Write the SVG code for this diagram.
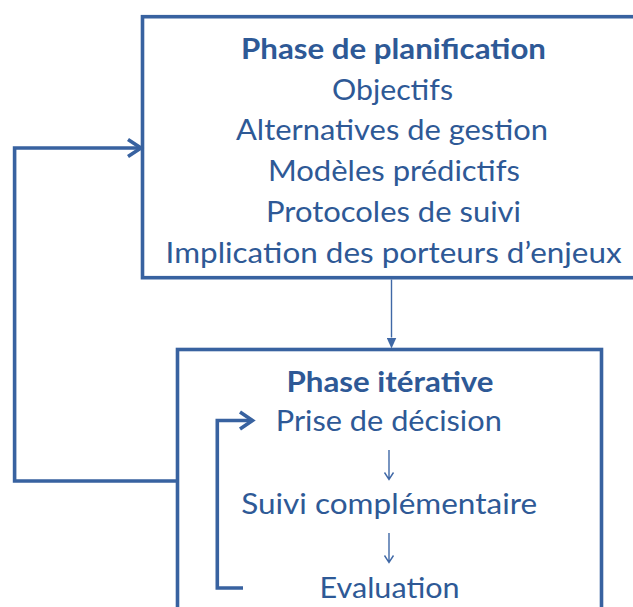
<svg xmlns="http://www.w3.org/2000/svg" width="633" height="607" viewBox="0 0 633 607">
<defs>
<style>
.box{fill:#fff;stroke:#3862a0;stroke-width:3.6}
.t{font-family:Lato,"Liberation Sans",sans-serif;font-size:28px;fill:#2e5996;text-anchor:middle}
.b{font-weight:bold}
.thick{fill:none;stroke:#3862a0;stroke-width:3.6;stroke-linejoin:miter}
.thin{fill:none;stroke:#3f68a6;stroke-width:1.4}
</style>
<marker id="tri" markerWidth="11" markerHeight="10" refX="0" refY="5" orient="auto" markerUnits="userSpaceOnUse" viewBox="0 0 11 10">
<path d="M0,0 L11,5 L0,10 Z" fill="#3f68a6"/>
</marker>
</defs>
<rect width="633" height="607" fill="#fff"/>
<g id="node-planification">
<rect class="box" x="142.5" y="16.7" width="520" height="261"/>
<text class="t b" x="393.5" y="59" textLength="305" lengthAdjust="spacingAndGlyphs">Phase de planification</text>
<text class="t" x="392.5" y="99.5" textLength="121" lengthAdjust="spacingAndGlyphs">Objectifs</text>
<text class="t" x="392" y="140" textLength="312" lengthAdjust="spacingAndGlyphs">Alternatives de gestion</text>
<text class="t" x="394" y="181" textLength="252" lengthAdjust="spacingAndGlyphs">Modèles prédictifs</text>
<text class="t" x="393.5" y="221.7" textLength="255" lengthAdjust="spacingAndGlyphs">Protocoles de suivi</text>
<text class="t" x="393.6" y="262.5" textLength="456" lengthAdjust="spacingAndGlyphs">Implication des porteurs d’enjeux</text>
</g>
<g id="node-iterative">
<rect class="box" x="177.5" y="349.5" width="424" height="280"/>
<text class="t b" x="390" y="391.5" textLength="207" lengthAdjust="spacingAndGlyphs">Phase itérative</text>
<text class="t" x="388.8" y="430.7" textLength="226" lengthAdjust="spacingAndGlyphs">Prise de décision</text>
<text class="t" x="389.2" y="514" textLength="296" lengthAdjust="spacingAndGlyphs">Suivi complémentaire</text>
<text class="t" x="389.6" y="598" textLength="140" lengthAdjust="spacingAndGlyphs">Evaluation</text>
</g>
<g id="connectors">
<path class="thin" d="M391.5,279.5 V337.5" marker-end="url(#tri)"/>
<path class="thick" d="M176,481 H14.6 V148 H140.5"/>
<path class="thick" d="M128,139.5 L141,148 L128,156.5"/>
<path class="thick" d="M243,588 H217.3 V420.5 H251.5"/>
<path class="thick" d="M240,412 L252.5,420.5 L240,429"/>
<path class="thin" d="M389,450 V479.5 M384.5,472.5 L389,479.5 L393.5,472.5"/>
<path class="thin" d="M389,533 V562.5 M384.5,555.5 L389,562.5 L393.5,555.5"/>
</g>
</svg>
